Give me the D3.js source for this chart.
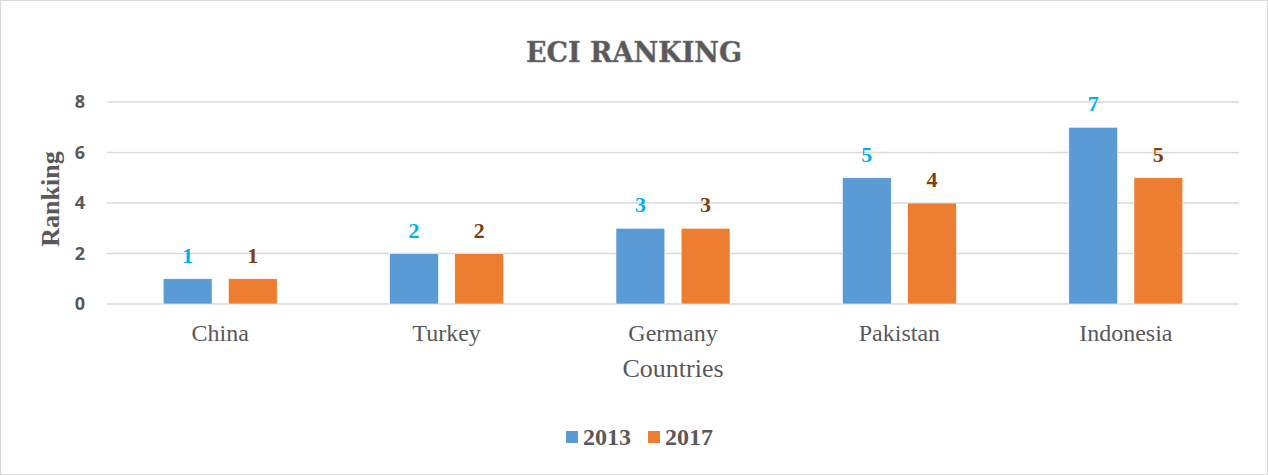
<!DOCTYPE html>
<html>
<head>
    <meta charset="utf-8"/>
    <style>
        body {
            margin: 0;
            background: #fff;
        }
        #chart svg {
            display: block;
        }
    </style>
</head>
<body>
<div id="chart"></div>
<script src="https://cdn.jsdelivr.net/npm/d3@7"></script>
<script type="text/javascript">

    var countries = ["China", "Turkey", "Germany", "Pakistan", "Indonesia"];
    var years = ["2013", "2017"];
    var values2013 = [1, 2, 3, 5, 7];
    var values2017 = [1, 2, 3, 4, 5];
    var yTicks = [0, 2, 4, 6, 8];

    var w = 1268;
    var h = 475;
    var plotLeft = 107, plotRight = 1239, plotTop = 102, plotBottom = 304;

    var barColors = ["#5B9BD5", "#ED7D31"];
    var labelColors = ["#00B0F0", "#843C0C"];

    var series = [values2013, values2017];

    var svg = d3.select("#chart")
        .append("svg")
        .attr("width", w)
        .attr("height", h);

    // border around the chart
    svg.append("rect")
        .attr("x", 0.5).attr("y", 0.5)
        .attr("width", w - 1).attr("height", h - 1)
        .attr("fill", "#fff")
        .attr("stroke", "#D9D9D9");

    var xScale = d3.scaleBand()
        .domain(countries)
        .range([plotLeft, plotRight]);

    var x1 = d3.scaleBand()
        .domain(years)
        .range([xScale.bandwidth() / 2 - 57, xScale.bandwidth() / 2 + 57])
        .paddingInner(0.25);

    var yScale = d3.scaleLinear()
        .domain([0, 8])
        .range([plotBottom, plotTop]);

    // gridlines
    svg.append("g")
        .selectAll("line")
        .data(yTicks)
        .enter()
        .append("line")
        .attr("x1", plotLeft)
        .attr("x2", plotRight)
        .attr("y1", function (d) { return yScale(d); })
        .attr("y2", function (d) { return yScale(d); })
        .attr("stroke", "#D9D9D9")
        .attr("stroke-width", 1.3);

    // y axis labels
    var yAxis = d3.axisLeft(yScale).tickValues(yTicks).tickSize(0).tickPadding(22);
    var gy = svg.append("g")
        .attr("transform", "translate(" + plotLeft + ",0)")
        .call(yAxis);
    gy.select(".domain").remove();
    gy.selectAll("text")
        .attr("fill", "#595959")
        .style("font-family", "'Open Sans', 'Liberation Sans', sans-serif")
        .style("font-size", "18px")
        .style("font-weight", "bold");

    // x axis labels
    var xAxis = d3.axisBottom(xScale).tickSize(0).tickPadding(20);
    var gx = svg.append("g")
        .attr("transform", "translate(0," + plotBottom + ")")
        .call(xAxis);
    gx.select(".domain").remove();
    gx.selectAll("text")
        .attr("fill", "#595959")
        .style("font-family", "'Liberation Serif', serif")
        .style("font-size", "24px");

    // bars
    var groups = svg.append("g")
        .selectAll("g")
        .data(countries)
        .enter()
        .append("g")
        .attr("transform", function (d) { return "translate(" + xScale(d) + ",0)"; });

    years.forEach(function (yr, j) {
        groups.append("rect")
            .attr("x", x1(yr))
            .attr("y", function (d, i) { return yScale(series[j][i]); })
            .attr("width", x1.bandwidth())
            .attr("height", function (d, i) { return yScale(0) - yScale(series[j][i]); })
            .attr("fill", barColors[j])
            .attr("stroke", "#fff")
            .attr("stroke-width", 0.6);

        groups.append("text")
            .attr("x", x1(yr) + x1.bandwidth() / 2)
            .attr("y", function (d, i) { return yScale(series[j][i]) - 16; })
            .attr("text-anchor", "middle")
            .attr("fill", labelColors[j])
            .style("font-family", "'Liberation Serif', serif")
            .style("font-weight", "bold")
            .style("font-size", "22px")
            .text(function (d, i) { return series[j][i]; });
    });

    // title
    svg.append("text")
        .attr("x", 634)
        .attr("y", 62)
        .attr("text-anchor", "middle")
        .attr("fill", "#595959")
        .attr("stroke", "#7f7f7f")
        .attr("stroke-width", 0.5)
        .style("font-family", "'DejaVu Serif', serif")
        .style("font-weight", "bold")
        .style("font-size", "27px")
        .text("ECI RANKING");

    // axis titles
    svg.append("text")
        .attr("transform", "translate(59,199) rotate(-90)")
        .attr("text-anchor", "middle")
        .attr("fill", "#595959")
        .style("font-family", "'Liberation Serif', serif")
        .style("font-weight", "bold")
        .style("font-size", "26px")
        .text("Ranking");

    svg.append("text")
        .attr("x", 673)
        .attr("y", 377)
        .attr("text-anchor", "middle")
        .attr("fill", "#595959")
        .style("font-family", "'Liberation Serif', serif")
        .style("font-size", "26px")
        .text("Countries");

    // legend
    var legendX = [566, 648];
    var legend = svg.append("g")
        .selectAll("g")
        .data(years)
        .enter()
        .append("g")
        .attr("transform", function (d, i) { return "translate(" + legendX[i] + ",431)"; });
    legend.append("rect")
        .attr("width", 12)
        .attr("height", 12)
        .attr("fill", function (d, i) { return barColors[i]; });
    legend.append("text")
        .attr("x", 17)
        .attr("y", 14)
        .attr("fill", "#595959")
        .style("font-family", "'Liberation Serif', serif")
        .style("font-weight", "bold")
        .style("font-size", "24px")
        .text(function (d) { return d; });

</script>
</body>
</html>
